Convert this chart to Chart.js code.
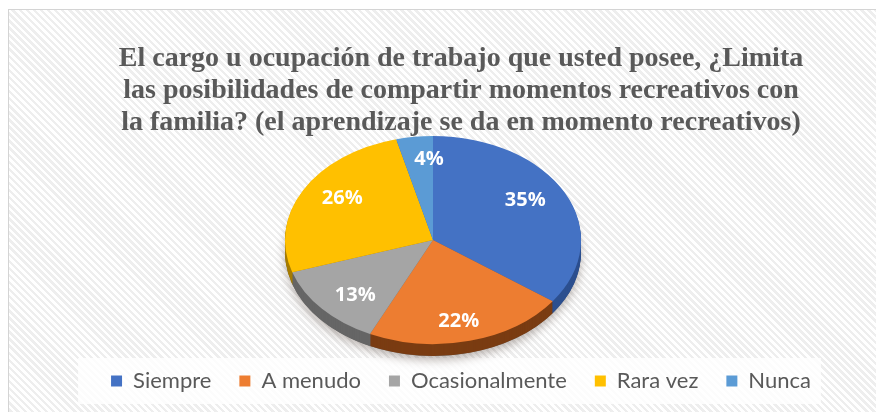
<!DOCTYPE html>
<html>
<head>
<meta charset="utf-8">
<script src="https://cdn.jsdelivr.net/npm/chart.js@4"></script>
<style>
    body { margin: 0; background: #fff; }
    #wrap { position: relative; width: 876px; height: 412px; overflow: hidden; }
    #frame {
        position: absolute; left: 8px; top: 9px; width: 900px; height: 440px;
        border: 1px solid #d4d4d4;
        background: repeating-linear-gradient(45deg, #ffffff 0 2.5px, #eeeeee 2.5px 5px);
    }
    #chart { position: absolute; left: 0; top: 0; }
</style>
</head>
<body>
<div id="wrap">
    <div id="frame"></div>
    <canvas id="chart" width="876" height="412"></canvas>
</div>
<script>

// ---------------- DATA ----------------

const categories = ["Siempre", "A menudo", "Ocasionalmente", "Rara vez", "Nunca"];

const percentages = [35, 22, 13, 26, 4];

const sliceColors = ["#4472C4", "#ED7D31", "#A5A5A5", "#FFC000", "#5B9BD5"];

const sideColors = ["#2c4f8f", "#7a3c12", "#666666", "#a67c00", "#3a6c9c"];

const titleLines = [
    "El cargo u ocupación de trabajo que usted posee, ¿Limita",
    "las posibilidades de compartir momentos recreativos con",
    "la familia? (el aprendizaje se da en momento recreativos)"
];

// ---------------- 3D LOOK ----------------

// ellipse the flat pie gets squeezed into
const pieCenterX = 433;
const pieCenterY = 240;
const pieRadiusX = 148;
const pieRadiusY = 104;
const pieDepth = 12;

const pie3d = {

    id: "pie3d",

    beforeDraw(chart) {
        // white box behind the legend
        const boxes = chart.legend.legendHitBoxes;
        if (!boxes.length) return;
        const first = boxes[0];
        const last = boxes[boxes.length - 1];
        const ctx = chart.ctx;
        ctx.save();
        ctx.fillStyle = "rgba(255,255,255,0.8)";
        ctx.fillRect(first.left - 33, first.top - 12,
            last.left + last.width + 10 - (first.left - 33), first.height + 24);
        ctx.restore();
    },

    beforeDatasetsDraw(chart) {
        const ctx = chart.ctx;
        const arcs = chart.getDatasetMeta(0).data;
        const a = arcs[0];

        // soft shadow under the pie
        ctx.save();
        ctx.shadowColor = "rgba(60,40,30,0.35)";
        ctx.shadowBlur = 10;
        ctx.shadowOffsetY = 4;
        ctx.beginPath();
        ctx.ellipse(pieCenterX, pieCenterY + pieDepth, pieRadiusX, pieRadiusY, 0, 0, Math.PI * 2);
        ctx.fillStyle = "#666";
        ctx.fill();
        ctx.restore();

        // side walls
        for (let k = pieDepth; k > 0; k--) {
            arcs.forEach((el, i) => {
                ctx.beginPath();
                ctx.ellipse(pieCenterX, pieCenterY + k, pieRadiusX, pieRadiusY, 0,
                    el.startAngle, el.endAngle);
                ctx.lineTo(pieCenterX, pieCenterY + k);
                ctx.closePath();
                ctx.fillStyle = sideColors[i];
                ctx.fill();
            });
        }

        // squeeze the library's round pie into the ellipse
        ctx.save();
        ctx.translate(pieCenterX, pieCenterY);
        ctx.scale(pieRadiusX / a.outerRadius, pieRadiusY / a.outerRadius);
        ctx.translate(-a.x, -a.y);
    },

    afterDatasetsDraw(chart) {
        const ctx = chart.ctx;
        ctx.restore();

        // percentage labels
        const arcs = chart.getDatasetMeta(0).data;
        ctx.save();
        ctx.fillStyle = "#ffffff";
        ctx.font = "bold 20px 'Open Sans'";
        ctx.textAlign = "center";
        ctx.textBaseline = "middle";
        arcs.forEach((el, i) => {
            const mid = (el.startAngle + el.endAngle) / 2;
            const f = i === 4 ? 0.65 : 0.7;
            ctx.fillText(percentages[i] + "%",
                pieCenterX + pieRadiusX * f * Math.cos(mid) + (i === 4 ? 8 : 0),
                pieCenterY + pieRadiusY * f * Math.sin(mid) * (Math.sin(mid) > 0 ? 1.15 : 1.2));
        });
        ctx.restore();
    }
};

// ---------------- CHART ----------------

new Chart(document.getElementById("chart"), {

    type: "pie",

    data: {
        labels: categories,
        datasets: [{
            data: percentages,
            backgroundColor: sliceColors,
            borderWidth: 0,
            clip: false
        }]
    },

    options: {
        responsive: false,
        animation: false,
        layout: {
            padding: { left: 46, right: 0, top: 43, bottom: 10 }
        },
        plugins: {
            title: {
                display: true,
                text: titleLines,
                color: "#595959",
                font: { family: "'Liberation Serif'", size: 28, weight: "bold", lineHeight: 1.143 },
                padding: { top: 0, bottom: 10 }
            },
            legend: {
                position: "bottom",
                labels: {
                    boxWidth: 11,
                    boxHeight: 11,
                    color: "#595959",
                    font: { family: "Lato", size: 22 },
                    padding: 28
                }
            },
            tooltip: { enabled: false }
        }
    },

    plugins: [pie3d]
});

</script>
</body>
</html>
